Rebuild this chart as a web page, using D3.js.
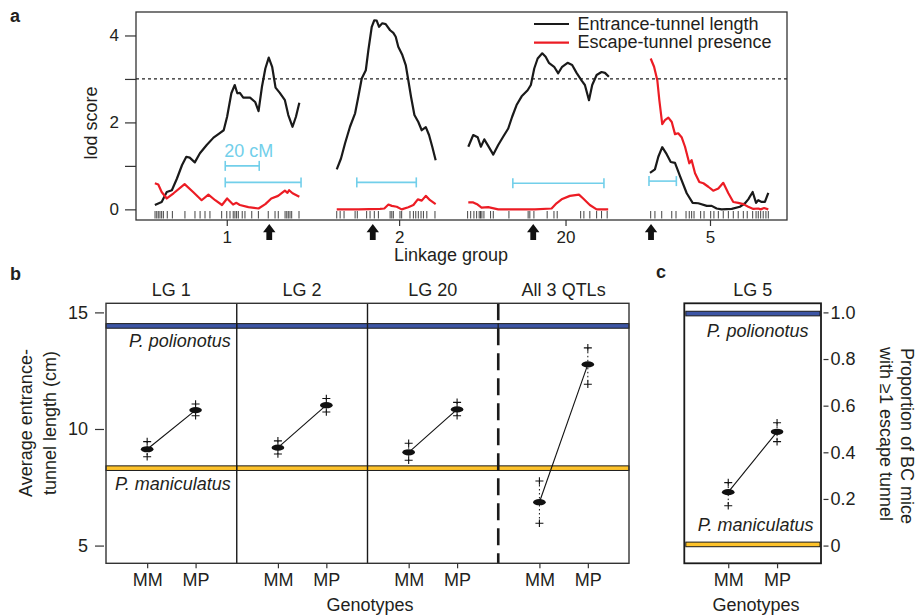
<!DOCTYPE html>
<html><head><meta charset="utf-8">
<script src="https://cdn.jsdelivr.net/npm/d3@7"></script>
<style>
html,body{margin:0;padding:0;background:#fff;}
svg{display:block;font-family:"Liberation Sans",Arial,Helvetica,sans-serif;}
</style></head><body>
<svg id="chart" width="915" height="616"></svg>
<script>
// ---------- Panel a data (position in cM within each linkage group, lod score) ----------
const groups = ["1", "2", "20", "5"];
const groupStart = [0, 107.1, 184.5, 291.8];      // start of each group on the concatenated map (cM)
const groupLabelPos = [42.8, 37.1, 57.6, 35.3];   // axis label position within group (cM)
const qtlArrow = [67.8, 21.6, 38.6, 0.6];         // QTL peak arrows (cM)
const ciLow = [41.9, 12.2, 26.6, -0.6];
const ciHigh = [86.5, 47.2, 80.2, 15.5];
const ciLod = [0.62, 0.62, 0.60, 0.65];
const lodThreshold = 3;
const lodTicks = [0, 1, 2, 3, 4];
const lodLabels = [0, 2, 4];

const entranceLG1 = [[0.5,0.10],[4.5,0.17],[7.5,0.40],[10.5,0.44],[13.5,0.71],[16.5,1.02],[19,1.21],[21,1.19],[24,1.08],[27,1.29],[31,1.48],[35,1.65],[38.5,1.75],[41,1.82],[43,2.13],[45.5,2.67],[47.5,2.86],[49,2.67],[50.5,2.68],[52.5,2.57],[56.5,2.57],[59.5,2.47],[61.5,2.26],[63.5,2.82],[65.5,3.24],[67.5,3.49],[69.5,3.28],[71.5,2.80],[74,2.68],[77,2.51],[79,2.17],[81.5,1.90],[83.5,2.13],[85.5,2.45]];
const escapeLG1 = [[0.5,0.60],[2.5,0.57],[4.5,0.40],[7.5,0.25],[11.5,0.37],[18,0.58],[23,0.40],[28,0.21],[32,0.34],[36,0.21],[40,0.10],[43,0.25],[46.5,0.11],[48.5,0.15],[50.5,0.10],[55.5,0.05],[61.5,0.02],[65.5,0.12],[69,0.25],[73,0.31],[77,0.43],[78.5,0.38],[79.5,0.44],[81.5,0.37],[85.5,0.29]];
const entranceLG2 = [[0.4,0.92],[2.9,1.17],[5.3,1.52],[8.2,1.90],[11.2,2.21],[13.1,2.59],[15.1,3.01],[17.5,3.20],[19,3.66],[21,4.20],[22.5,4.35],[23.9,4.34],[25.3,4.20],[27.2,4.28],[29.2,4.26],[31.8,4.12],[33.7,4.06],[35.1,3.97],[36.6,3.74],[39,3.55],[41,3.32],[42.5,2.97],[44.1,2.59],[46.1,2.17],[48.4,2.01],[50.4,1.82],[52.8,1.89],[54.7,1.71],[56.6,1.44],[58.6,1.13]];
const escapeLG2 = [[0.4,0],[13.1,0],[25.9,0.01],[28.4,0.02],[30.8,0.11],[32.8,0.08],[35.7,0.06],[38.6,0],[42.5,0.05],[45.5,0.10],[48.1,0.23],[50.4,0.20],[52.8,0.31],[55.3,0.21],[58.6,0.12]];
const entranceLG20 = [[0.4,1.44],[3.3,1.71],[5.9,1.66],[7.8,1.44],[9.8,1.61],[12.1,1.46],[15.1,1.26],[18,1.48],[20.9,1.67],[23.9,1.86],[26.2,2.13],[28.8,2.40],[31.8,2.60],[35.3,2.74],[37.2,2.86],[39.2,3.24],[41.2,3.47],[43.9,3.59],[45.9,3.51],[47.8,3.37],[50.9,3.28],[53.3,3.13],[55.6,3.28],[58.8,3.37],[61.5,3.32],[64.1,3.14],[67.1,2.96],[69,2.86],[71.4,2.51],[73.3,2.86],[75.9,3.09],[78.8,3.16],[80.8,3.14],[83.1,3.05]];
const escapeLG20 = [[0.4,0.16],[3.3,0.16],[5.9,0.11],[8.2,0.04],[12.1,0.05],[18,0],[39.6,0],[49.4,0.02],[52.3,0.14],[55.3,0.23],[60.2,0.31],[65.5,0.34],[68,0.25],[71.9,0.10],[75.9,0],[82.7,0]];
const entranceLG5 = [[0,0.84],[2.9,0.92],[4.9,1.21],[7.2,1.43],[9.8,1.27],[12.2,1.09],[14.7,1.07],[17.6,0.77],[21.6,0.37],[25.1,0.15],[28.4,0.14],[33.4,0.08],[36.3,0.08],[39.2,0.02],[42.2,0],[48.1,0.01],[52.9,0.06],[55.9,0.14],[57.8,0.23],[60.4,0.40],[62.4,0.15],[63.7,0.21],[65.7,0.17],[67.6,0.17],[69.6,0.38]];
const escapeLG5 = [[0.4,3.47],[2.4,3.28],[4.3,2.97],[5.5,2.51],[7.2,1.96],[8.8,2.05],[10.8,2.11],[12.8,2.01],[14.7,1.73],[16.6,1.75],[18.6,1.66],[20.6,1.44],[23.1,1.06],[24.5,1.13],[26.5,0.83],[29,0.63],[31.4,0.60],[34.3,0.52],[37.2,0.43],[40.2,0.48],[43.1,0.61],[46.1,0.37],[49,0.17],[51.9,0.15],[54.9,0.12],[57.8,0.06],[60.8,0.01],[63.7,0.02],[65.1,0],[67.1,0.03],[69.6,0]];

const markersLG1 = [0.6,1.6,2.5,3.5,4.5,5.5,7.8,10.8,18.2,24.1,27.1,30,32.9,39.8,42.8,44.7,46.6,47.6,48.6,49.6,51.9,53.5,57.5,61.4,67.2,71.2,73.1,77.1,78.1,79,80,81,85.3];
const markersLG2 = [0.4,2.4,4.7,11.2,12.5,18,20,22.5,24.9,31.8,32.8,33.7,37.6,38.6,43.5,45.5,46.9,48.4,50,51.4,53.4,58.2];
const markersLG20 = [0,1.8,3.7,5.3,6.8,7.6,8.4,9.6,13.5,15.1,24.3,35.6,36.6,39,46.8,50.8,52.7,66.5,68.4,71.9,75.9,78.8,82.1];
const markersLG5 = [0.4,2.9,6.9,12.8,15.3,21.2,23.1,24.5,25.9,29.8,31.8,35.7,37.6,40.2,43.1,46.1,49,51.9,54.9,57.2,60.4,62.4,63.7,65.1,66.6,68.2,69.6];

const entranceSeries = [entranceLG1, entranceLG2, entranceLG20, entranceLG5];
const escapeSeries = [escapeLG1, escapeLG2, escapeLG20, escapeLG5];
const markerSeries = [markersLG1, markersLG2, markersLG20, markersLG5];
const scaleBarCM = 20;
const legendLabels = ["Entrance-tunnel length", "Escape-tunnel presence"];

// ---------- Panel b data ----------
const bPanels = ["LG 1", "LG 2", "LG 20", "All 3 QTLs"];
const genotypes = ["MM", "MP"];
const bMean  = [[9.13, 10.81], [9.20, 11.02], [9.00, 10.84], [6.86, 12.77]];
const bUpper = [[9.46, 11.07], [9.49, 11.31], [9.39, 11.14], [7.77, 13.48]];
const bLower = [[8.81, 10.57], [8.93, 10.73], [8.66, 10.57], [5.96, 11.92]];
const bTicks = [5, 10, 15];
const polionotusLength = 14.42;
const maniculatusLength = 8.32;

// ---------- Panel c data ----------
const cPanel = "LG 5";
const cMean = [0.229, 0.488];
const cUpper = [0.270, 0.527];
const cLower = [0.171, 0.446];
const cTicks = [0, 0.2, 0.4, 0.6, 0.8, 1.0];
const polionotusProp = 0.995;
const maniculatusProp = 0.005;

// ---------- styles ----------
const TXT = "#231f20", FRAME = "#333333", RED = "#ec1c24", CYAN = "#72cfea",
      BLUE = "#3c55a5", YELLOW = "#fdc22a";
const FONT = "Liberation Sans, Arial, sans-serif";

const svg = d3.select("#chart");

// ================= Panel a =================
const xA = d3.scaleLinear().domain([-10.6, 372.4]).range([136, 787]);
const yA = d3.scaleLinear().domain([-0.245, 4.54]).range([220, 12]);
const gx = (gi, cm) => xA(groupStart[gi] + cm);
const a = svg.append("g");

a.append("rect").attr("x", xA.range()[0]).attr("y", yA.range()[1])
  .attr("width", xA.range()[1] - xA.range()[0]).attr("height", yA.range()[0] - yA.range()[1])
  .attr("fill", "none").attr("stroke", FRAME).attr("stroke-width", 1.3);

// y axis
const yAxisA = d3.axisLeft(yA).tickValues(lodTicks).tickSize(11)
  .tickFormat(d => lodLabels.includes(d) ? d : "");
a.append("g").attr("transform", `translate(${xA.range()[0]},0)`).call(yAxisA)
  .call(g => g.select(".domain").remove())
  .call(g => g.selectAll("line").attr("stroke", FRAME).attr("stroke-width", 1.2))
  .call(g => g.selectAll("text").attr("fill", TXT).attr("font-size", 17).attr("font-family", FONT).attr("dx", -3));

// threshold
a.append("line").attr("x1", xA.range()[0]).attr("x2", xA.range()[1])
  .attr("y1", yA(lodThreshold)).attr("y2", yA(lodThreshold))
  .attr("stroke", "#222").attr("stroke-width", 1.2).attr("stroke-dasharray", "3,3");

// x axis (group labels)
const xTickPos = groups.map((g, i) => groupStart[i] + groupLabelPos[i]);
const xAxisA = d3.axisBottom(xA).tickValues(xTickPos).tickSize(6)
  .tickFormat((d, i) => groups[i]);
a.append("g").attr("transform", `translate(0,${yA.range()[0]})`).call(xAxisA)
  .call(g => g.select(".domain").remove())
  .call(g => g.selectAll("line").attr("stroke", FRAME).attr("stroke-width", 1.2))
  .call(g => g.selectAll("text").attr("fill", TXT).attr("font-size", 17).attr("font-family", FONT).attr("y", 11));

// markers (rug)
markerSeries.forEach((ms, gi) => {
  a.append("g").selectAll("line").data(ms).join("line")
    .attr("x1", d => gx(gi, d)).attr("x2", d => gx(gi, d))
    .attr("y1", yA.range()[0] - 9).attr("y2", yA.range()[0] - 1.5)
    .attr("stroke", "#444").attr("stroke-width", 1);
});

// CI bars
function ciBar(x1, x2, y) {
  const cg = a.append("g").attr("stroke", CYAN).attr("stroke-width", 1.6);
  cg.append("line").attr("x1", x1).attr("x2", x2).attr("y1", y).attr("y2", y);
  cg.append("line").attr("x1", x1).attr("x2", x1).attr("y1", y - 5).attr("y2", y + 5);
  cg.append("line").attr("x1", x2).attr("x2", x2).attr("y1", y - 5).attr("y2", y + 5);
}
groups.forEach((g, gi) => ciBar(gx(gi, ciLow[gi]), gx(gi, ciHigh[gi]), yA(ciLod[gi])));
// 20 cM scale bar
{
  const y = yA(1.0);
  const x1 = gx(0, ciLow[0]), x2 = gx(0, ciLow[0] + scaleBarCM);
  ciBar(x1, x2, y);
  a.append("text").attr("x", x1 - 1).attr("y", y - 9).attr("fill", CYAN)
    .attr("font-size", 18).text(scaleBarCM + " cM");
}

// curves
const lineA = (gi) => d3.line().x(d => gx(gi, d[0])).y(d => yA(d[1]));
entranceSeries.forEach((s, gi) => {
  a.append("path").datum(s).attr("d", lineA(gi)).attr("fill", "none")
    .attr("stroke", "#1a1a1a").attr("stroke-width", 2.2).attr("stroke-linejoin", "round");
});
escapeSeries.forEach((s, gi) => {
  a.append("path").datum(s).attr("d", lineA(gi)).attr("fill", "none")
    .attr("stroke", RED).attr("stroke-width", 2.2).attr("stroke-linejoin", "round");
});

// QTL arrows
qtlArrow.forEach((cm, gi) => {
  const cx = gx(gi, cm), y0 = yA.range()[0] + 4;
  a.append("path")
    .attr("d", `M${cx},${y0} L${cx + 6.2},${y0 + 8.3} L${cx + 2.9},${y0 + 8.3} L${cx + 2.9},${y0 + 16} L${cx - 2.9},${y0 + 16} L${cx - 2.9},${y0 + 8.3} L${cx - 6.2},${y0 + 8.3} Z`)
    .attr("fill", "#111");
});

// axis titles
a.append("text").attr("transform", `translate(97,${(yA(0) + yA(4)) / 2 + 0.5}) rotate(-90)`)
  .attr("text-anchor", "middle").attr("fill", TXT).attr("font-size", 18).text("lod score");
a.append("text").attr("x", 451).attr("y", 261).attr("text-anchor", "middle")
  .attr("fill", TXT).attr("font-size", 18).text("Linkage group");

// legend
const legColors = ["#1a1a1a", RED];
legendLabels.forEach((l, i) => {
  const y = 24 + i * 18.7;
  a.append("line").attr("x1", 534).attr("x2", 569).attr("y1", y).attr("y2", y)
    .attr("stroke", legColors[i]).attr("stroke-width", 2.2);
  a.append("text").attr("x", 577.5).attr("y", y + 5.5).attr("fill", TXT)
    .attr("font-size", 18).text(l);
});

// panel letters
svg.append("text").attr("x", 10).attr("y", 22).attr("font-weight", "bold").attr("font-size", 18).attr("fill", TXT).text("a");
svg.append("text").attr("x", 10).attr("y", 280).attr("font-weight", "bold").attr("font-size", 18).attr("fill", TXT).text("b");
svg.append("text").attr("x", 656).attr("y", 278).attr("font-weight", "bold").attr("font-size", 18).attr("fill", TXT).text("c");

// ================= shared drawing helpers =================
function band(g, x1, x2, y, color) {
  g.append("rect").attr("x", x1).attr("y", y - 2.3).attr("width", x2 - x1).attr("height", 4.6)
    .attr("fill", color).attr("stroke", "#1a1a1a").attr("stroke-width", 1);
}
function plus(g, x, y) {
  g.append("path").attr("d", `M${x - 4},${y} H${x + 4} M${x},${y - 3.8} V${y + 3.8}`)
    .attr("stroke", "#111").attr("stroke-width", 1.1);
}
function genotypePanel(g, xp, yScale, mean, up, lo) {
  const pts = genotypes.map((gt, i) => [xp(gt), yScale(mean[i])]);
  g.append("path").datum(pts).attr("d", d3.line()).attr("stroke", "#111")
    .attr("stroke-width", 1.1).attr("fill", "none");
  genotypes.forEach((gt, i) => {
    const x = xp(gt);
    g.append("line").attr("x1", x).attr("x2", x).attr("y1", yScale(up[i])).attr("y2", yScale(lo[i]))
      .attr("stroke", "#111").attr("stroke-width", 1).attr("stroke-dasharray", "1.5,2.5");
    plus(g, x, yScale(up[i]));
    plus(g, x, yScale(lo[i]));
    g.append("ellipse").attr("cx", x).attr("cy", yScale(mean[i])).attr("rx", 6.3).attr("ry", 3.1)
      .attr("fill", "#111");
  });
}
function styleBottom(g) {
  g.select(".domain").remove();
  g.selectAll("line").attr("stroke", FRAME).attr("stroke-width", 1.2);
  g.selectAll("text").attr("fill", TXT).attr("font-size", 18).attr("font-family", FONT).attr("y", 10);
}

// ================= Panel b =================
const yB = d3.scaleLinear().domain([4.24, 15.39]).range([563.3, 303.3]);
const xBand = d3.scaleBand().domain(bPanels).range([106, 629]);
const b = svg.append("g");

bPanels.forEach((p, pi) => {
  const x0 = xBand(p), w = xBand.bandwidth();
  band(b, x0, x0 + w, yB(polionotusLength), BLUE);
  band(b, x0, x0 + w, yB(maniculatusLength), YELLOW);
  const xp = d3.scalePoint().domain(genotypes).range([x0, x0 + w]).padding(0.85);
  genotypePanel(b, xp, yB, bMean[pi], bUpper[pi], bLower[pi]);
  b.append("g").attr("transform", `translate(0,${yB.range()[0]})`)
    .call(d3.axisBottom(xp).tickSize(5).tickSizeOuter(0)).call(styleBottom);
  b.append("text").attr("x", x0 + w / 2).attr("y", 296).attr("text-anchor", "middle")
    .attr("fill", TXT).attr("font-size", 18).text(p);
});
// dividers
bPanels.slice(1).forEach((p, i) => {
  const x = xBand(p);
  const last = i === bPanels.length - 2;
  b.append("line").attr("x1", x).attr("x2", x).attr("y1", yB.range()[1]).attr("y2", yB.range()[0])
    .attr("stroke", "#1a1a1a").attr("stroke-width", last ? 2.6 : 1.4)
    .attr("stroke-dasharray", last ? "17,8" : null);
});
b.append("rect").attr("x", xBand.range()[0]).attr("y", yB.range()[1])
  .attr("width", xBand.range()[1] - xBand.range()[0]).attr("height", yB.range()[0] - yB.range()[1])
  .attr("fill", "none").attr("stroke", FRAME).attr("stroke-width", 1.4);
// species labels
const bw0 = xBand(bPanels[0]) + xBand.bandwidth();
b.append("text").attr("x", bw0 - 6).attr("y", yB(polionotusLength) + 21.5).attr("text-anchor", "end")
  .attr("font-style", "italic").attr("fill", TXT).attr("font-size", 18).text("P. polionotus");
b.append("text").attr("x", bw0 - 6).attr("y", yB(maniculatusLength) + 22).attr("text-anchor", "end")
  .attr("font-style", "italic").attr("fill", TXT).attr("font-size", 18).text("P. maniculatus");
// y axis
b.append("g").attr("transform", `translate(${xBand.range()[0] - 2},0)`)
  .call(d3.axisLeft(yB).tickValues(bTicks).tickSize(9))
  .call(g => g.select(".domain").remove())
  .call(g => g.selectAll("line").attr("stroke", FRAME).attr("stroke-width", 1.2))
  .call(g => g.selectAll("text").attr("fill", TXT).attr("font-size", 18).attr("font-family", FONT).attr("dx", -4));
// titles
b.append("text").attr("transform", `translate(32,423) rotate(-90)`).attr("text-anchor", "middle")
  .attr("fill", TXT).attr("font-size", 18).text("Average entrance-");
b.append("text").attr("transform", `translate(56,423) rotate(-90)`).attr("text-anchor", "middle")
  .attr("fill", TXT).attr("font-size", 18).text("tunnel length (cm)");
b.append("text").attr("x", 370).attr("y", 611).attr("text-anchor", "middle")
  .attr("fill", TXT).attr("font-size", 18).text("Genotypes");

// ================= Panel c =================
const yC = d3.scaleLinear().domain([0, 1]).range([yB(5), yB(15)]);
const cX0 = 684.3, cX1 = 821;
const c = svg.append("g");
band(c, cX0 + 1.5, cX1 - 1, yC(polionotusProp), BLUE);
band(c, cX0 + 1.5, cX1 - 1, yC(maniculatusProp), YELLOW);
const xpC = d3.scalePoint().domain(genotypes).range([cX0, cX1]).padding(0.9);
genotypePanel(c, xpC, yC, cMean, cUpper, cLower);
c.append("rect").attr("x", cX0).attr("y", yB.range()[1]).attr("width", cX1 - cX0)
  .attr("height", yB.range()[0] - yB.range()[1]).attr("fill", "none")
  .attr("stroke", "#1a1a1a").attr("stroke-width", 1.8);
c.append("g").attr("transform", `translate(0,${yB.range()[0]})`)
  .call(d3.axisBottom(xpC).tickSize(5).tickSizeOuter(0)).call(styleBottom);
c.append("g").attr("transform", `translate(${cX1 + 2.5},0)`)
  .call(d3.axisRight(yC).tickValues(cTicks).tickSize(5).tickFormat(d => d === 0 ? "0" : d3.format(".1f")(d)))
  .call(g => g.select(".domain").remove())
  .call(g => g.selectAll("line").attr("stroke", FRAME).attr("stroke-width", 1.2))
  .call(g => g.selectAll("text").attr("fill", TXT).attr("font-size", 18).attr("font-family", FONT).attr("dx", -1));
c.append("text").attr("x", (cX0 + cX1) / 2).attr("y", 296).attr("text-anchor", "middle")
  .attr("fill", TXT).attr("font-size", 18).text(cPanel);
c.append("text").attr("x", cX1 - 12.5).attr("y", yC(polionotusProp) + 23).attr("text-anchor", "end")
  .attr("font-style", "italic").attr("fill", TXT).attr("font-size", 18).text("P. polionotus");
c.append("text").attr("x", cX1 - 7.5).attr("y", yC(maniculatusProp) - 13.5).attr("text-anchor", "end")
  .attr("font-style", "italic").attr("fill", TXT).attr("font-size", 18).text("P. maniculatus");
c.append("text").attr("x", 756).attr("y", 611).attr("text-anchor", "middle")
  .attr("fill", TXT).attr("font-size", 18).text("Genotypes");
c.append("text").attr("transform", `translate(900.5,436) rotate(90)`).attr("text-anchor", "middle")
  .attr("fill", TXT).attr("font-size", 18).text("Proportion of BC mice");
c.append("text").attr("transform", `translate(879.5,434) rotate(90)`).attr("text-anchor", "middle")
  .attr("fill", TXT).attr("font-size", 18).text("with \u22651 escape tunnel");
</script></body></html>
